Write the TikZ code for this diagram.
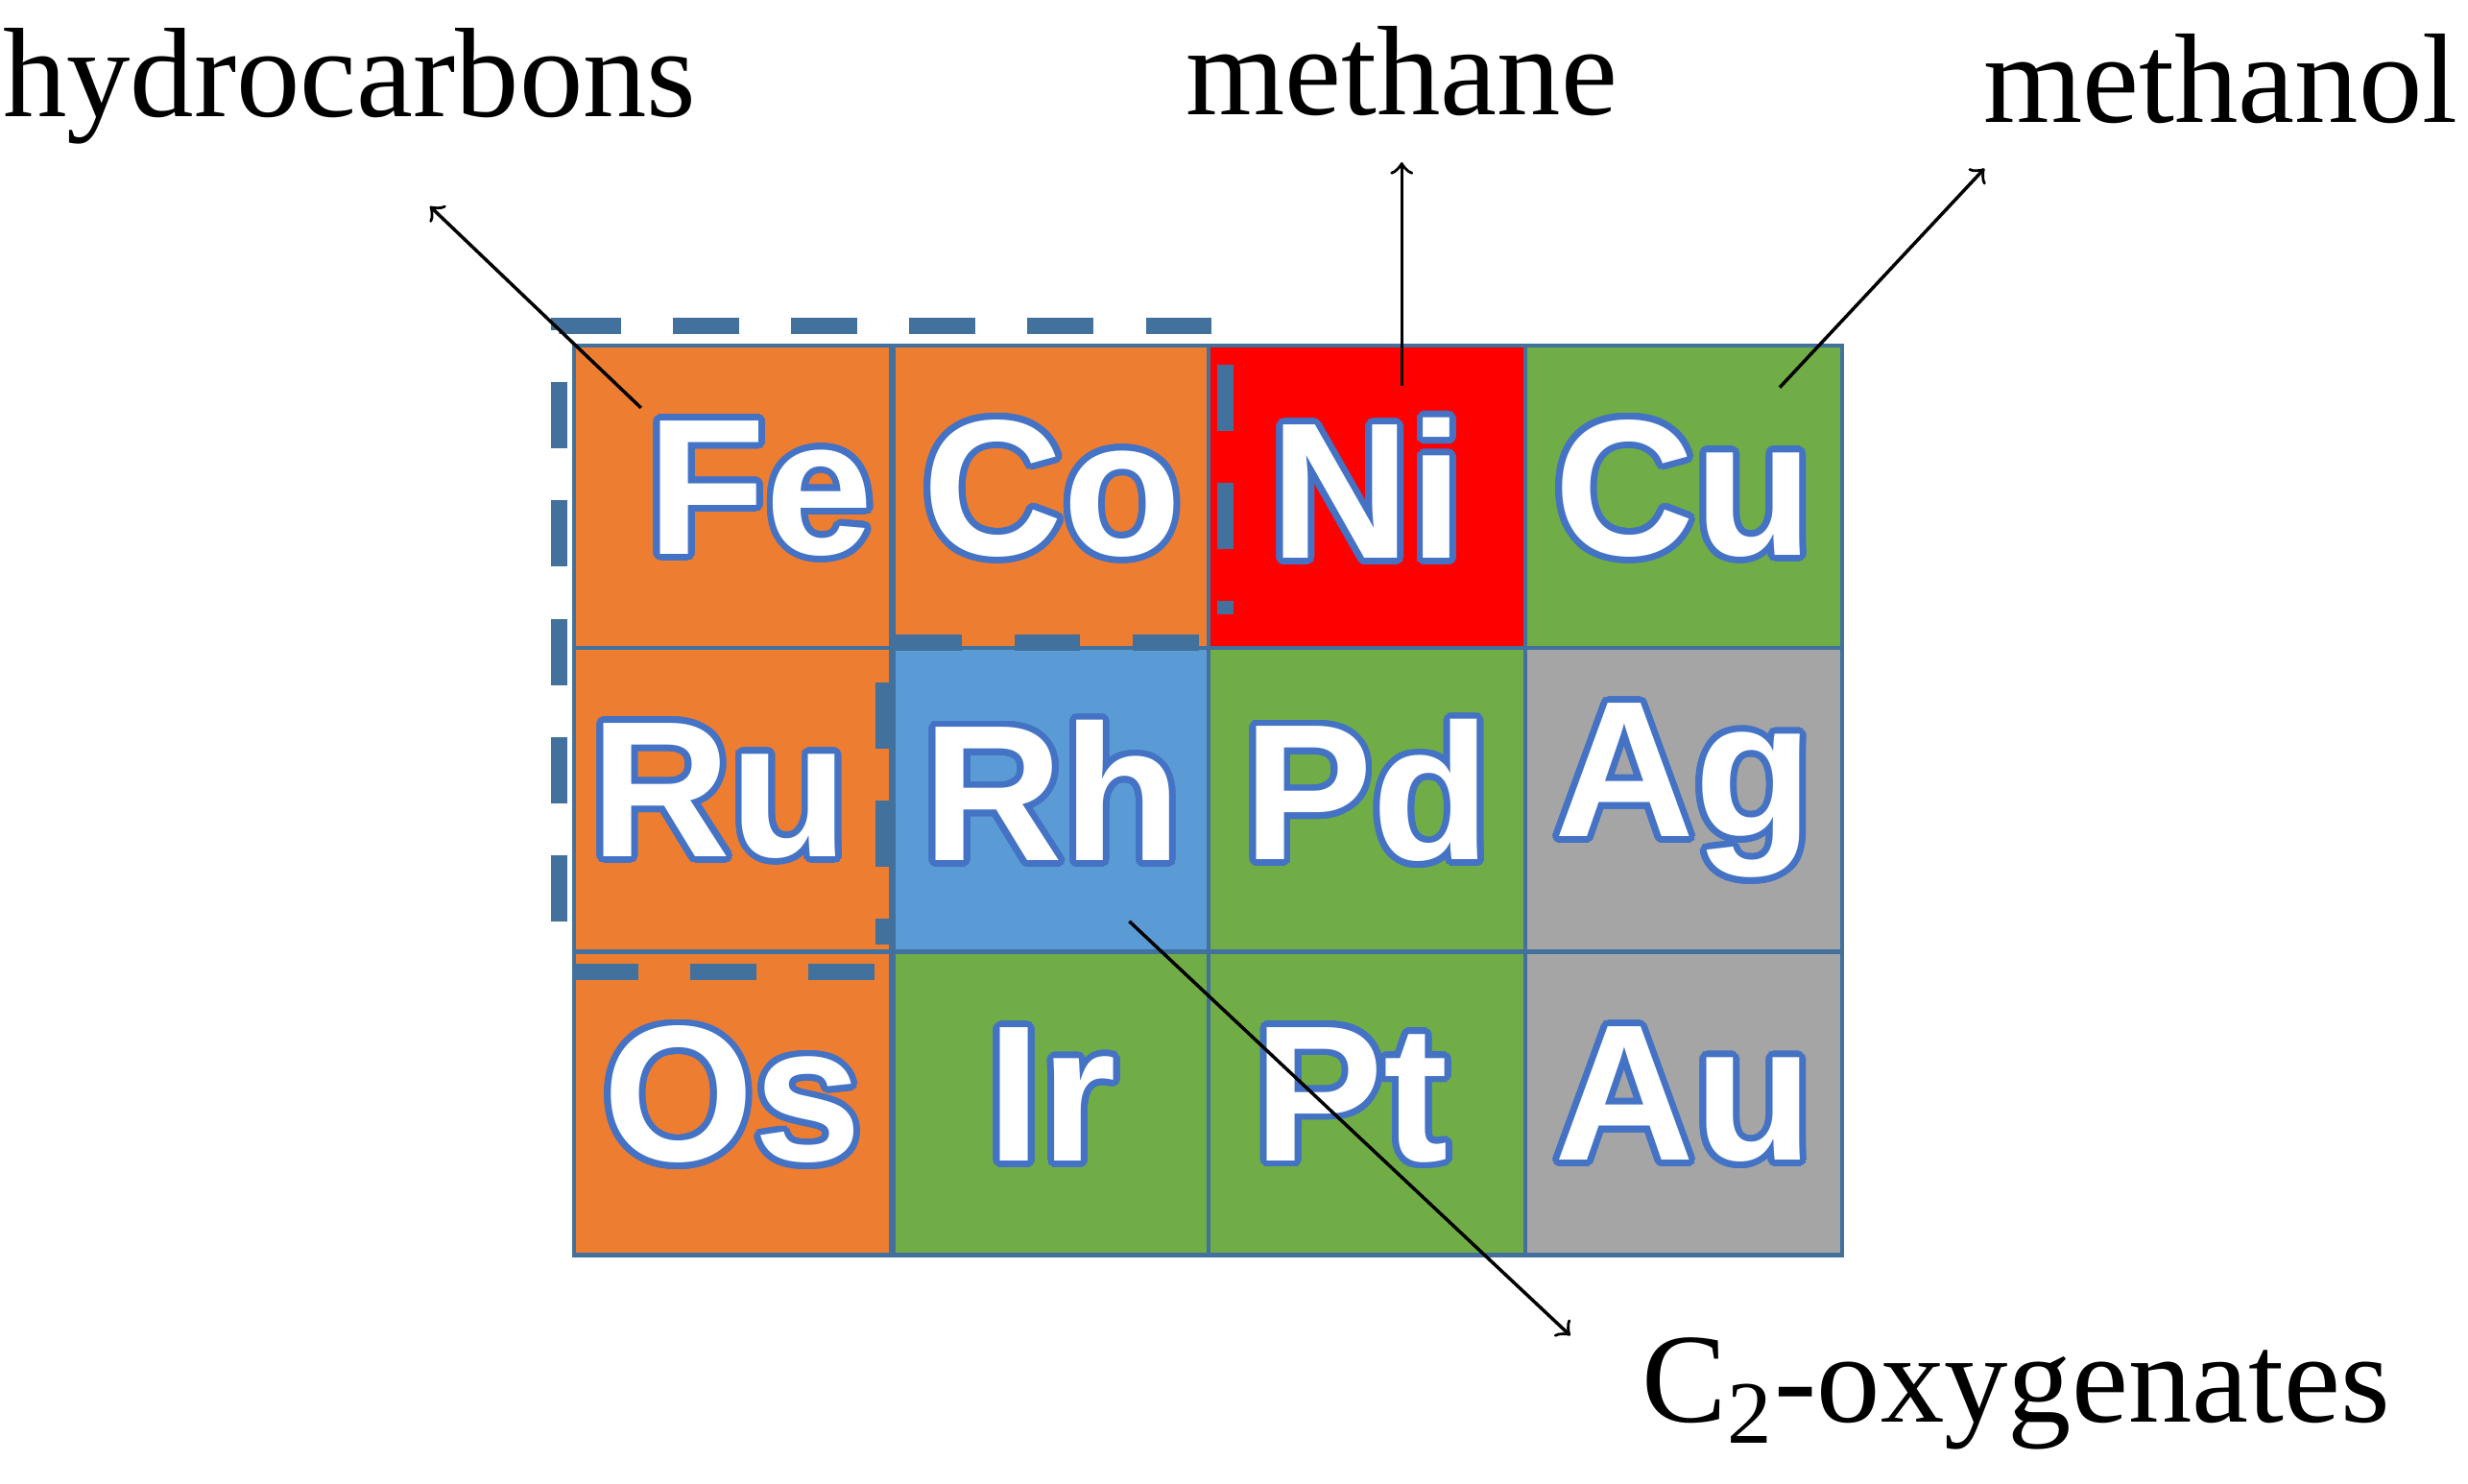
\documentclass[tikz,border=0pt]{standalone}
\usepackage{fontspec}
\setmainfont{Liberation Serif}
\newfontfamily\elfont{Liberation Sans}
\usepackage[copies]{contour}
\contournumber{24}
\contourlength{1.2pt}
\definecolor{org}{HTML}{ED7D31}
\definecolor{grn}{HTML}{70AD47}
\definecolor{blu}{HTML}{5B9BD5}
\definecolor{gry}{HTML}{A5A5A5}
\definecolor{edge}{HTML}{41719C}
\definecolor{txtedge}{HTML}{4472C4}
\begin{document}
\begin{tikzpicture}[x=0.01cm,y=-0.01cm,
  cell/.style={draw=edge,line width=0.8pt,minimum width=2.01cm,minimum height=1.925cm,inner sep=0pt,anchor=north west},
  el/.style={font=\elfont\bfseries\fontsize{35}{35}\selectfont,text=white},
  lab/.style={font=\fontsize{23}{23}\selectfont},
  arr/.style={->,line width=0.6pt},
  dsh/.style={draw=edge,line width=3pt,dash pattern=on 0.42cm off 0.33cm}]
\useasboundingbox (0,0) rectangle (1567,941.7);
\foreach \n/\x/\y/\c in {fe/363/218/org,co/566/218/org,ni/766/218/red,cu/967/218/grn,
  ru/363/410/org,rh/566/410/blu,pd/766/410/grn,ag/967/410/gry,
  os/363/603/org,ir/566/603/grn,pt/766/603/grn,au/967/603/gry}{
  \node[cell,fill=\c] (\n) at (\x,\y) {};
}
\foreach \n/\t/\dx in {fe/Fe/18,co/Co/0,ni/Ni/0,cu/Cu/0,ru/Ru/-8,rh/Rh/0,pd/Pd/0,ag/Ag/0,os/Os/0,ir/Ir/0,pt/Pt/-10,au/Au/0}{
  \node[el] at ([xshift=\dx*0.01cm,yshift=1pt]\n.center) {\contour{txtedge}{\t}};
}
% dashed boundaries
\draw[dsh] (355,585) -- (355,207) -- (778,207) -- (778,390);
\draw[dsh] (761,408) -- (561,408) -- (561,600);
\draw[dsh] (363,617) -- (566,617);
% labels
\node[lab] (hc) at (222,55) {hydrocarbons};
\node[lab] (me) at (890,45) {methane};
\node[lab] (mo) at (1410,50) {methanol};
\node[lab] (c2) at (1280,885) {C\textsubscript{2}-oxygenates};
\coordinate (a1) at (407,259); \coordinate (b1) at (273,131);
\coordinate (a2) at (890,245); \coordinate (b2) at (890,103);
\coordinate (a3) at (1130,246); \coordinate (b3) at (1260,107);
\coordinate (a4) at (717,585); \coordinate (b4) at (997,848);
\draw[arr] (a1) -- (b1);
\draw[arr] (a2) -- (b2);
\draw[arr] (a3) -- (b3);
\draw[arr] (a4) -- (b4);
\end{tikzpicture}
\end{document}
